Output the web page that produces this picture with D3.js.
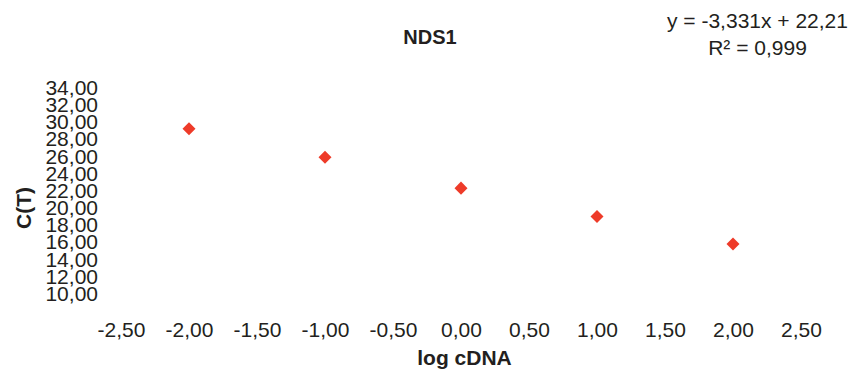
<!DOCTYPE html>
<html>
<head>
<meta charset="utf-8">
<script src="https://cdn.jsdelivr.net/npm/d3@7"></script>
<style>
  html, body { margin: 0; padding: 0; background: #fff; }
  svg { display: block; font-family: "Liberation Sans", Arial, sans-serif; }
  text { fill: #231f20; }
</style>
</head>
<body>
<svg id="chart" width="857" height="374"></svg>
<script>
// Standard curve data: log cDNA vs threshold cycle
const logCdna = [-2, -1, 0, 1, 2];
const ctValues = [29.1, 25.8, 22.2, 18.9, 15.7];
const xTicks = [-2.5, -2, -1.5, -1, -0.5, 0, 0.5, 1, 1.5, 2, 2.5];
const yTicks = [10, 12, 14, 16, 18, 20, 22, 24, 26, 28, 30, 32, 34];
const title = "NDS1";
const xTitle = "log cDNA";
const yTitle = "C(T)";
const fitLines = ["y = -3,331x + 22,21", "R² = 0,999"];

const svg = d3.select("#chart");
// decimal comma, plain hyphen for negatives
const locale = d3.formatLocale({ decimal: ",", thousands: ".", grouping: [3], currency: ["", ""], minus: "-" });
const fmt = locale.format(".2f");

const x = d3.scaleLinear().domain([-2.5, 2.5]).range([121, 801]);
const y = d3.scaleLinear().domain([10, 34]).range([293, 86.7]);

// x-axis tick labels (no axis line)
const xAxis = d3.axisBottom(x).tickValues(xTicks).tickFormat(fmt).tickSize(0).tickPadding(0);
const gx = svg.append("g").attr("transform", "translate(0,321)").call(xAxis);
gx.select(".domain").remove();
gx.selectAll("text").attr("font-size", 21).attr("dy", 0).attr("y", 16)
  .style("font-family", "Liberation Sans, Arial, sans-serif").attr("fill", "#231f20");

// y-axis tick labels (no axis line)
const yAxis = d3.axisLeft(y).tickValues(yTicks).tickFormat(fmt).tickSize(0).tickPadding(0);
const gy = svg.append("g").attr("transform", "translate(98,0)").call(yAxis);
gy.select(".domain").remove();
gy.selectAll("text").attr("font-size", 21).attr("x", 0).attr("dy", "0.36em")
  .style("font-family", "Liberation Sans, Arial, sans-serif").attr("fill", "#231f20");

// data points as red diamonds
const diamond = d3.symbol().type(d3.symbolDiamond2).size(108);
svg.append("g").selectAll("path")
  .data(logCdna.map((v, i) => [v, ctValues[i]]))
  .join("path")
  .attr("d", diamond)
  .attr("transform", d => `translate(${x(d[0])},${y(d[1])})`)
  .attr("fill", "#ee3b29");

// titles
svg.append("text").attr("x", 430).attr("y", 44).attr("text-anchor", "middle")
  .attr("font-size", 20).attr("font-weight", "bold").text(title);
svg.append("text").attr("x", 464.5).attr("y", 365).attr("text-anchor", "middle")
  .attr("font-size", 21).attr("font-weight", "bold").text(xTitle);
svg.append("text").attr("transform", "translate(31,208) rotate(-90)").attr("text-anchor", "middle")
  .attr("font-size", 21).attr("font-weight", "bold").text(yTitle);

// regression equation
svg.append("g").selectAll("text").data(fitLines).join("text")
  .attr("x", 757.5).attr("y", (d, i) => 28 + i * 27).attr("text-anchor", "middle")
  .attr("font-size", 21).text(d => d);
</script>
</body>
</html>
